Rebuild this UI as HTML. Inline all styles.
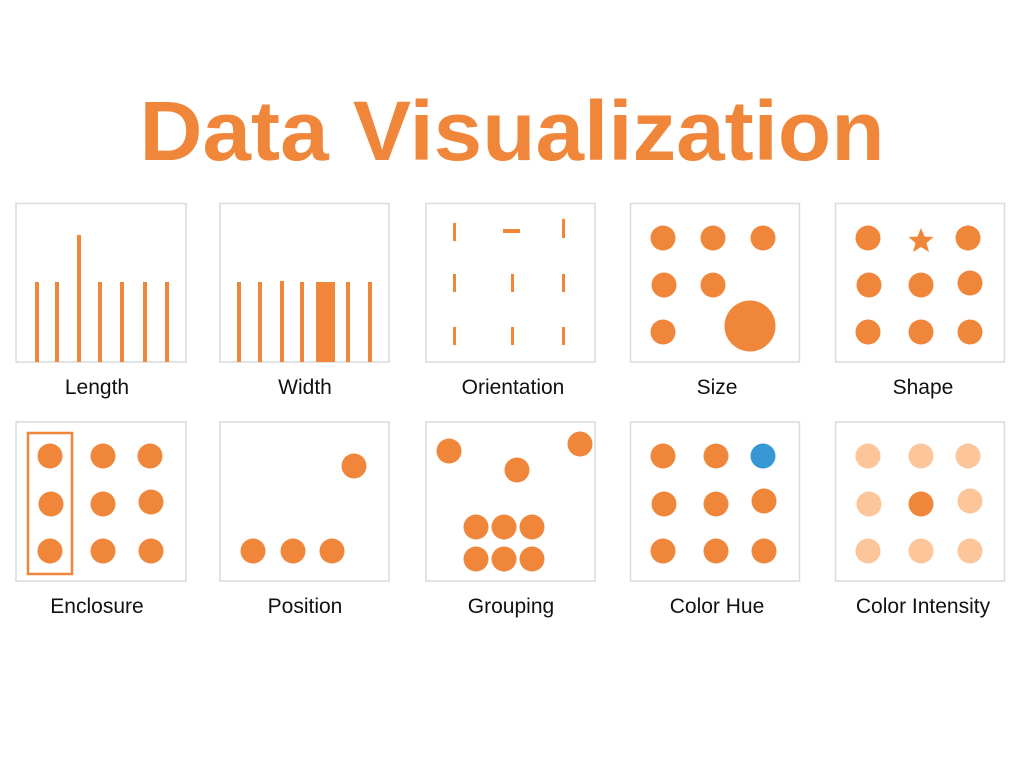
<!DOCTYPE html>
<html><head><meta charset="utf-8"><style>
html,body{margin:0;padding:0;background:#fff;width:1024px;height:768px;overflow:hidden}
svg{display:block}
text{font-family:"Liberation Sans","DejaVu Sans",sans-serif}
</style></head><body>
<svg width="1024" height="768" viewBox="0 0 1024 768" xmlns="http://www.w3.org/2000/svg">
<text x="512" y="160" text-anchor="middle" font-size="84" font-weight="bold" fill="#f0863a" textLength="745" lengthAdjust="spacingAndGlyphs">Data Visualization</text>
<g fill="none" stroke="#d7dcdc" stroke-width="1.5">
<rect x="16" y="203.5" width="170" height="158.5"/>
<rect x="220" y="203.5" width="169" height="158.5"/>
<rect x="426" y="203.5" width="169" height="158.5"/>
<rect x="630.5" y="203.5" width="169" height="158.5"/>
<rect x="835.5" y="203.5" width="169" height="158.5"/>
<rect x="16" y="422" width="170" height="159"/>
<rect x="220" y="422" width="169" height="159"/>
<rect x="426" y="422" width="169" height="159"/>
<rect x="630.5" y="422" width="169" height="159"/>
<rect x="835.5" y="422" width="169" height="159"/>
</g>
<g fill="#f0863a">
<rect x="35" y="282" width="4" height="80"/><rect x="55" y="282" width="4" height="80"/>
<rect x="77" y="235" width="4" height="127"/><rect x="98" y="282" width="4" height="80"/>
<rect x="120" y="282" width="4" height="80"/><rect x="143" y="282" width="4" height="80"/>
<rect x="165" y="282" width="4" height="80"/>
<rect x="237" y="282" width="4" height="80"/><rect x="258" y="282" width="4" height="80"/>
<rect x="280" y="281" width="4" height="81"/><rect x="300" y="282" width="4" height="80"/>
<rect x="316" y="282" width="19" height="80"/><rect x="346" y="282" width="4" height="80"/>
<rect x="368" y="282" width="4" height="80"/>
<rect x="453" y="223" width="3" height="18"/><rect x="503" y="229" width="17" height="4"/><rect x="562" y="219" width="3" height="19"/>
<rect x="453" y="274" width="3" height="18"/><rect x="511" y="274" width="3" height="18"/><rect x="562" y="274" width="3" height="18"/>
<rect x="453" y="327" width="3" height="18"/><rect x="511" y="327" width="3" height="18"/><rect x="562" y="327" width="3" height="18"/>
<circle cx="663" cy="238" r="12.5"/><circle cx="713" cy="238" r="12.5"/><circle cx="763" cy="238" r="12.5"/>
<circle cx="664" cy="285" r="12.5"/><circle cx="713" cy="285" r="12.5"/><circle cx="663" cy="332" r="12.5"/>
<circle cx="750" cy="326" r="25.5"/>
<circle cx="868" cy="238" r="12.5"/><circle cx="968" cy="238" r="12.5"/>
<polygon points="921,228 924.5,236.5 933.5,237 926.5,243 929,252 921,247 913,252 915.5,243 908.5,237 917.5,236.5"/>
<circle cx="869" cy="285" r="12.5"/><circle cx="921" cy="285" r="12.5"/><circle cx="970" cy="283" r="12.5"/>
<circle cx="868" cy="332" r="12.5"/><circle cx="921" cy="332" r="12.5"/><circle cx="970" cy="332" r="12.5"/>
<circle cx="50" cy="456" r="12.5"/><circle cx="103" cy="456" r="12.5"/><circle cx="150" cy="456" r="12.5"/>
<circle cx="51" cy="504" r="12.5"/><circle cx="103" cy="504" r="12.5"/><circle cx="151" cy="502" r="12.5"/>
<circle cx="50" cy="551" r="12.5"/><circle cx="103" cy="551" r="12.5"/><circle cx="151" cy="551" r="12.5"/>
<circle cx="354" cy="466" r="12.5"/><circle cx="253" cy="551" r="12.5"/><circle cx="293" cy="551" r="12.5"/><circle cx="332" cy="551" r="12.5"/>
<circle cx="449" cy="451" r="12.5"/><circle cx="517" cy="470" r="12.5"/><circle cx="580" cy="444" r="12.5"/>
<circle cx="476" cy="527" r="12.5"/><circle cx="504" cy="527" r="12.5"/><circle cx="532" cy="527" r="12.5"/>
<circle cx="476" cy="559" r="12.5"/><circle cx="504" cy="559" r="12.5"/><circle cx="532" cy="559" r="12.5"/>
<circle cx="663" cy="456" r="12.5"/><circle cx="716" cy="456" r="12.5"/><circle cx="763" cy="456" r="12.5" fill="#3597d3"/>
<circle cx="664" cy="504" r="12.5"/><circle cx="716" cy="504" r="12.5"/><circle cx="764" cy="501" r="12.5"/>
<circle cx="663" cy="551" r="12.5"/><circle cx="716" cy="551" r="12.5"/><circle cx="764" cy="551" r="12.5"/>
</g>
<rect x="28" y="433" width="44" height="141" fill="none" stroke="#f0863a" stroke-width="2.5"/>
<g fill="#fdc59a">
<circle cx="868" cy="456" r="12.5"/><circle cx="921" cy="456" r="12.5"/><circle cx="968" cy="456" r="12.5"/>
<circle cx="869" cy="504" r="12.5"/><circle cx="970" cy="501" r="12.5"/>
<circle cx="868" cy="551" r="12.5"/><circle cx="921" cy="551" r="12.5"/><circle cx="970" cy="551" r="12.5"/>
</g>
<circle cx="921" cy="504" r="12.5" fill="#f0863a"/>
<g font-size="21" fill="#111" text-anchor="middle">
<text x="97" y="394">Length</text>
<text x="305" y="394">Width</text>
<text x="513" y="394">Orientation</text>
<text x="717" y="394">Size</text>
<text x="923" y="394">Shape</text>
<text x="97" y="613">Enclosure</text>
<text x="305" y="613">Position</text>
<text x="511" y="613">Grouping</text>
<text x="717" y="613">Color Hue</text>
<text x="923" y="613">Color Intensity</text>
</g>
</svg>
</body></html>
